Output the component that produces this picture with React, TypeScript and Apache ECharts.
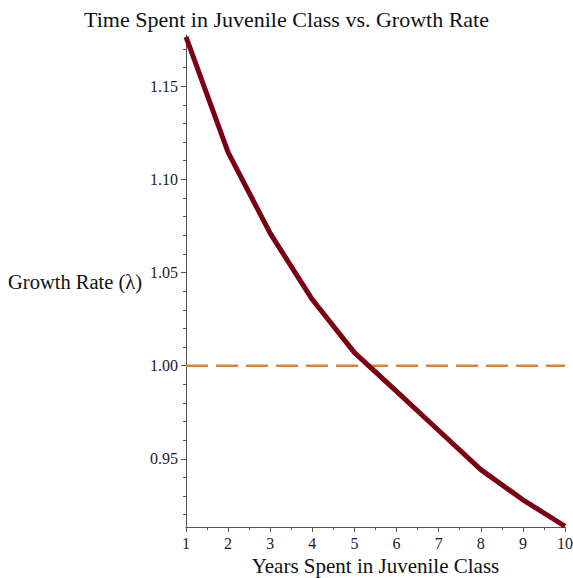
import React, { useEffect, useRef } from "react";
import * as echarts from "echarts";

const years = [1, 2, 3, 4, 5, 6, 7, 8, 9, 10];
const growthRate = [1.1765, 1.1145, 1.071, 1.0355, 1.007, 0.9862, 0.9652, 0.9442, 0.928, 0.9138];
const referenceLine = [1, 1];
const referenceYears = [1, 10];
const yMajorTicks = [0.95, 1.0, 1.05, 1.1, 1.15];
const yMinorTicks = [0.92, 0.93, 0.94, 0.96, 0.97, 0.98, 0.99, 1.01, 1.02, 1.03, 1.04, 1.06, 1.07, 1.08, 1.09, 1.11, 1.12, 1.13, 1.14, 1.16, 1.17];

const FONT = "'Liberation Serif', 'Times New Roman', serif";

export default function App() {
  const ref = useRef<HTMLDivElement>(null);
  useEffect(() => {
    if (!ref.current) return;
    const chart = echarts.init(ref.current, null, { renderer: "svg" });
    const yMin = 0.9134;
    const yMax = 1.1775;
    chart.setOption({
      animation: false,
      backgroundColor: "#ffffff",
      title: {
        text: "Time Spent in Juvenile Class vs. Growth Rate",
        left: "center",
        top: 3,
        textStyle: { fontFamily: FONT, fontSize: 22, fontWeight: "normal", color: "#111" },
      },
      graphic: [
        {
          type: "text",
          left: 8,
          top: 271,
          style: { text: "Growth Rate (λ)", font: `20.5px ${FONT}`, fill: "#111" },
        },
      ],
      grid: { left: 186, right: 8, top: 35, bottom: 51, containLabel: false, outerBoundsMode: "none" },
      xAxis: {
        type: "value",
        min: 1,
        max: 10,
        interval: 1,
        name: "Years Spent in Juvenile Class",
        nameLocation: "middle",
        nameGap: 28,
        nameTextStyle: { fontFamily: FONT, fontSize: 21, color: "#111" },
        axisLine: { show: true, onZero: false, lineStyle: { color: "#555", width: 1 } },
        axisTick: { show: true, inside: false, length: 5, lineStyle: { color: "#555" } },
        minorTick: { show: true, splitNumber: 2, length: 3, lineStyle: { color: "#555" } },
        axisLabel: { fontFamily: FONT, fontSize: 16, color: "#1a1a2a", margin: 8 },
        splitLine: { show: false },
      },
      yAxis: [
        {
          type: "value",
          min: yMin,
          max: yMax,
          position: "left",
          axisLine: { show: true, onZero: false, lineStyle: { color: "#555", width: 1 } },
          axisTick: { show: true, inside: false, length: 5, customValues: yMajorTicks, lineStyle: { color: "#555" } },
          axisLabel: {
            fontFamily: FONT,
            fontSize: 16,
            color: "#1a1a2a",
            margin: 8,
            customValues: yMajorTicks,
            formatter: (v: number) => v.toFixed(2),
          },
          splitLine: { show: false },
        },
        {
          type: "value",
          min: yMin,
          max: yMax,
          position: "left",
          axisLine: { show: false },
          axisTick: { show: true, inside: false, length: 3, customValues: yMinorTicks, lineStyle: { color: "#555" } },
          axisLabel: { show: false, customValues: yMinorTicks },
          splitLine: { show: false },
        },
      ],
      series: [
        {
          type: "line",
          data: referenceYears.map((x, i) => [x, referenceLine[i]]),
          symbol: "none",
          lineStyle: { color: "#d98438", width: 2.5, type: [22, 8] },
          z: 1,
        },
        {
          type: "line",
          data: years.map((x, i) => [x, growthRate[i]]),
          symbol: "none",
          smooth: false,
          lineStyle: { color: "#7a0012", width: 5 },
          z: 2,
        },
      ],
    });
    return () => chart.dispose();
  }, []);
  return <div ref={ref} style={{ width: 573, height: 578, position: "absolute", left: 0, top: 0 }} />;
}
